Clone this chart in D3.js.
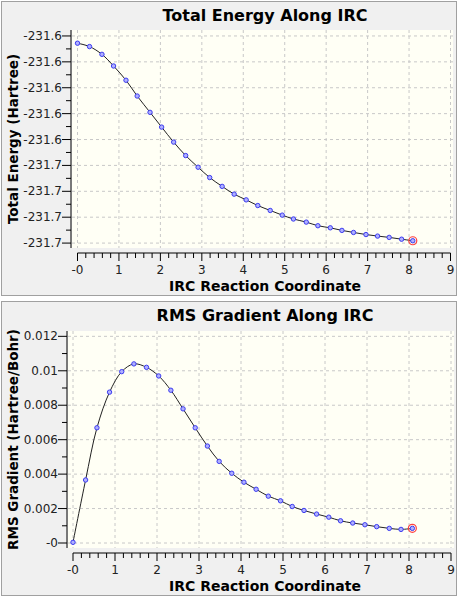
<!DOCTYPE html>
<html>
<head>
<meta charset="utf-8">
<script src="https://cdn.jsdelivr.net/npm/d3@7"></script>
<style>
  body { margin: 0; background: #fff; font-family: "DejaVu Sans", "Liberation Sans", Arial, sans-serif; }
  .grid line { stroke: #c8c8c8; stroke-dasharray: 3,3; }
</style>
</head>
<body>
<div id="chart"></div>
<script>
var xTickValues = [0, 1, 2, 3, 4, 5, 6, 7, 8, 9];
var xTickLabels = ['-0', '1', '2', '3', '4', '5', '6', '7', '8', '9'];

var energyX = [0, 0.29, 0.59, 0.87, 1.17, 1.44, 1.75, 2.03, 2.32, 2.61, 2.91, 3.19, 3.49, 3.78, 4.07,
  4.35, 4.65, 4.94, 5.21, 5.52, 5.8, 6.1, 6.38, 6.66, 6.96, 7.24, 7.52, 7.82, 8.09];
var energyY = [-231.6078, -231.6091, -231.6121, -231.6166, -231.6221, -231.6282, -231.6345, -231.6402,
  -231.6460, -231.6512, -231.6557, -231.6597, -231.6631, -231.6661, -231.6683, -231.6705, -231.6724,
  -231.6742, -231.6757, -231.6769, -231.6783, -231.6791, -231.6801, -231.6809, -231.6817, -231.6823,
  -231.6828, -231.6835, -231.6841];
var energyTicks = [-231.605, -231.615, -231.625, -231.635, -231.645, -231.655, -231.665, -231.675, -231.685];
var energyTickLabels = ['-231.6', '-231.6', '-231.6', '-231.6', '-231.6', '-231.7', '-231.7', '-231.7', '-231.7'];

var gradX = [0, 0.30, 0.57, 0.87, 1.16, 1.45, 1.75, 2.04, 2.33, 2.62, 2.91, 3.20, 3.48, 3.78, 4.07,
  4.36, 4.65, 4.94, 5.22, 5.50, 5.80, 6.09, 6.37, 6.66, 6.95, 7.23, 7.53, 7.81, 8.08];
var gradY = [0.00004, 0.00366, 0.00669, 0.00876, 0.00995, 0.01040, 0.01020, 0.00970, 0.00887, 0.00779,
  0.00669, 0.00563, 0.00474, 0.00405, 0.00353, 0.00312, 0.00272, 0.00245, 0.00212, 0.00189, 0.00168,
  0.00150, 0.00129, 0.00116, 0.00106, 0.00095, 0.00085, 0.00079, 0.00085];
var gradTicks = [0, 0.002, 0.004, 0.006, 0.008, 0.01, 0.012];
var gradTickLabels = ['-0', '0.002', '0.004', '0.006', '0.008', '0.01', '0.012'];

var svg = d3.select('#chart').append('svg')
  .attr('width', 459)
  .attr('height', 599);

function drawPanel(cfg) {
  var g = svg.append('g').attr('transform', 'translate(0,' + cfg.top + ')');
  g.append('rect')
    .attr('x', 1.5).attr('y', 1.5).attr('width', 455).attr('height', 294)
    .attr('fill', '#f0f0f0').attr('stroke', '#a0a0a0');

  var xScale = d3.scaleLinear().domain([0, 9]).range([cfg.x0, cfg.x9]);
  var yScale = d3.scaleLinear().domain(cfg.yDomain).range([cfg.plotBottom, cfg.plotTop]);

  g.append('rect')
    .attr('x', cfg.plotLeft).attr('y', cfg.plotTop)
    .attr('width', cfg.plotRight - cfg.plotLeft).attr('height', cfg.plotBottom - cfg.plotTop)
    .attr('fill', '#fffff5');

  var grid = g.append('g').attr('class', 'grid');
  grid.selectAll('.vx').data(xTickValues).enter().append('line')
    .attr('x1', function(d) { return xScale(d); }).attr('x2', function(d) { return xScale(d); })
    .attr('y1', cfg.plotTop).attr('y2', cfg.plotBottom);
  grid.selectAll('.hy').data(cfg.ticks).enter().append('line')
    .attr('x1', cfg.plotLeft).attr('x2', cfg.plotRight)
    .attr('y1', function(d) { return yScale(d); }).attr('y2', function(d) { return yScale(d); });

  // y axis
  var step = cfg.ticks[1] - cfg.ticks[0];
  var minor = d3.range(cfg.ticks.length - 1).map(function(i) { return cfg.ticks[i] + step / 2; });
  g.append('line').attr('x1', cfg.plotLeft - 1).attr('x2', cfg.plotLeft - 1)
    .attr('y1', cfg.plotTop).attr('y2', cfg.plotBottom).attr('stroke', '#000');
  g.selectAll('.ymaj').data(cfg.ticks).enter().append('line')
    .attr('x1', cfg.plotLeft - 10).attr('x2', cfg.plotLeft - 1)
    .attr('y1', function(d) { return yScale(d); }).attr('y2', function(d) { return yScale(d); })
    .attr('stroke', '#000');
  g.selectAll('.ymin').data(minor).enter().append('line')
    .attr('x1', cfg.plotLeft - 6).attr('x2', cfg.plotLeft - 1)
    .attr('y1', function(d) { return yScale(d); }).attr('y2', function(d) { return yScale(d); })
    .attr('stroke', '#000');
  g.selectAll('.ylab').data(cfg.ticks).enter().append('text')
    .attr('x', cfg.plotLeft - 10).attr('y', function(d) { return yScale(d) + 4; })
    .attr('text-anchor', 'end').attr('font-size', 12).attr('fill', '#222')
    .text(function(d, i) { return cfg.tickLabels[i]; });

  // x axis
  var axisY = cfg.plotBottom + 5;
  g.append('line').attr('x1', xScale(0)).attr('x2', xScale(9))
    .attr('y1', axisY).attr('y2', axisY).attr('stroke', '#000');
  var xMinor = d3.range(0, 45.5).map(function(i) { return i / 5; });
  g.selectAll('.xmin').data(xMinor).enter().append('line')
    .attr('x1', function(d) { return xScale(d); }).attr('x2', function(d) { return xScale(d); })
    .attr('y1', axisY).attr('y2', function(d, i) { return axisY + (i % 5 === 0 ? 8 : 5); })
    .attr('stroke', '#000');
  g.selectAll('.xlab').data(xTickValues).enter().append('text')
    .attr('x', function(d) { return xScale(d); }).attr('y', axisY + 21)
    .attr('text-anchor', 'middle').attr('font-size', 12).attr('fill', '#222')
    .text(function(d, i) { return xTickLabels[i]; });

  g.append('text').attr('x', 265).attr('y', axisY + 38)
    .attr('text-anchor', 'middle').attr('font-size', 14).attr('font-weight', 'bold')
    .text('IRC Reaction Coordinate');
  g.append('text').attr('x', 265).attr('y', 21)
    .attr('text-anchor', 'middle').attr('font-size', 16).attr('font-weight', 'bold')
    .text(cfg.title);
  g.append('text')
    .attr('transform', 'translate(18,' + ((cfg.plotTop + cfg.plotBottom) / 2) + ') rotate(-90)')
    .attr('text-anchor', 'middle').attr('font-size', 13.5).attr('font-weight', 'bold')
    .text(cfg.yLabel);

  var pts = cfg.xs.map(function(x, i) { return [x, cfg.ys[i]]; });
  var line = d3.line()
    .x(function(d) { return xScale(d[0]); })
    .y(function(d) { return yScale(d[1]); })
    .curve(d3.curveCatmullRom);
  g.append('path').datum(pts).attr('d', line)
    .attr('fill', 'none').attr('stroke', '#222').attr('stroke-width', 1);
  g.selectAll('.pt').data(pts).enter().append('circle')
    .attr('cx', function(d) { return xScale(d[0]); })
    .attr('cy', function(d) { return yScale(d[1]); })
    .attr('r', 2.2).attr('fill', '#b0b0ff').attr('stroke', '#3c3cf0').attr('stroke-width', 1);
  var last = pts[pts.length - 1];
  g.append('circle').attr('cx', xScale(last[0])).attr('cy', yScale(last[1]))
    .attr('r', 4).attr('fill', 'none').attr('stroke', '#ff4040').attr('stroke-width', 1.2);
}

drawPanel({
  top: 0, title: 'Total Energy Along IRC', yLabel: 'Total Energy (Hartree)',
  xs: energyX, ys: energyY, ticks: energyTicks, tickLabels: energyTickLabels,
  yDomain: [-231.6869, -231.6027],
  plotLeft: 72, plotRight: 453, plotTop: 30, plotBottom: 248, x0: 77.5, x9: 450.5
});
drawPanel({
  top: 300, title: 'RMS Gradient Along IRC', yLabel: 'RMS Gradient (Hartree/Bohr)',
  xs: gradX, ys: gradY, ticks: gradTicks, tickLabels: gradTickLabels,
  yDomain: [-0.00029, 0.01231],
  plotLeft: 68, plotRight: 454, plotTop: 31, plotBottom: 248, x0: 73, x9: 451
});
</script>
</body>
</html>
